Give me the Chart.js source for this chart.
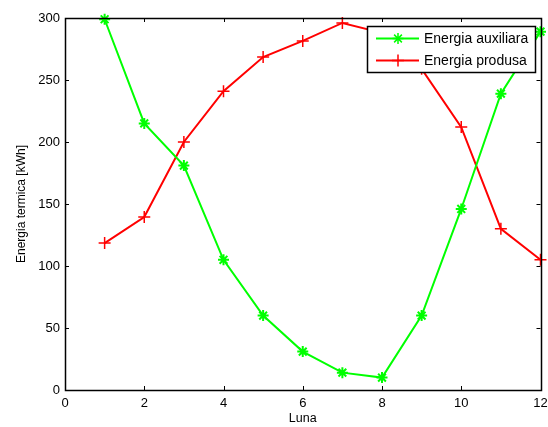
<!DOCTYPE html>
<html>
<head>
<meta charset="utf-8">
<script src="https://cdn.jsdelivr.net/npm/chart.js@4"></script>
<style>
  html, body { margin: 0; padding: 0; background: #fff; }
  #wrap { width: 548px; height: 427px; }
</style>
</head>
<body>
<div id="wrap"><canvas id="chart" width="548" height="427"></canvas></div>
<script>
// data
const luna = [1, 2, 3, 4, 5, 6, 7, 8, 9, 10, 11, 12];
const energiaAuxiliara = [299, 215, 181, 105, 60, 31, 14, 10, 60, 146, 239, 289];
const energiaProdusa = [118.5, 139.5, 200, 241, 268.5, 281.5, 296, 288, 259, 212, 130, 105];
const xTicks = [0, 2, 4, 6, 8, 10, 12];
const yTicks = [0, 50, 100, 150, 200, 250, 300];

const FONT = "'Liberation Sans', Arial, sans-serif";
Chart.defaults.font.family = FONT;
Chart.defaults.font.size = 13;
Chart.defaults.color = '#000';

// box round the axes + small inward ticks on all four sides (matlab style)
const boxTicks = {
    id: 'boxTicks',
    afterDatasetsDraw(chart) {
        const c = chart.ctx, a = chart.chartArea;
        const xs = chart.scales.x, ys = chart.scales.y;
        c.save();
        c.strokeStyle = '#000';
        c.lineWidth = 1;
        c.beginPath();
        xTicks.forEach(v => {
            const px = Math.round(xs.getPixelForValue(v)) + 0.5;
            c.moveTo(px, a.bottom); c.lineTo(px, a.bottom - 4);
            c.moveTo(px, a.top); c.lineTo(px, a.top + 4);
        });
        yTicks.forEach(v => {
            const py = Math.round(ys.getPixelForValue(v)) + 0.5;
            c.moveTo(a.left, py); c.lineTo(a.left + 4, py);
            c.moveTo(a.right, py); c.lineTo(a.right - 4, py);
        });
        c.stroke();
        c.lineWidth = 1.5;
        c.strokeRect(Math.round(a.left) + 0.5, Math.round(a.top) + 0.5,
                     Math.round(a.right - a.left), Math.round(a.bottom - a.top));
        c.restore();
    }
};

// legend box inside the plot, top right
const boxLegend = {
    id: 'boxLegend',
    afterDraw(chart) {
        const c = chart.ctx;
        const x0 = 367, y0 = 26, w = 168, h = 46;
        c.save();
        c.fillStyle = '#fff';
        c.fillRect(x0, y0, w, h);
        c.strokeStyle = '#000';
        c.lineWidth = 1.5;
        c.strokeRect(x0 + 0.5, y0 + 0.5, w, h);
        c.font = '14px ' + FONT;
        c.textBaseline = 'middle';
        chart.data.datasets.forEach((ds, i) => {
            const y = y0 + 12.5 + i * 22;
            c.strokeStyle = ds.borderColor;
            c.lineWidth = 2;
            c.beginPath();
            c.moveTo(x0 + 9, y); c.lineTo(x0 + 52, y);
            c.stroke();
            c.lineWidth = 1.5;
            Chart.helpers.drawPoint(c, {pointStyle: ds.pointStyle, radius: ds.pointRadius, borderWidth: 1.5}, x0 + 31, y);
            c.fillStyle = '#000';
            c.fillText(ds.label, x0 + 57, y + 1);
        });
        c.restore();
    }
};

new Chart(document.getElementById('chart'), {
    type: 'line',
    data: {
        datasets: [{
            label: 'Energia auxiliara',
            data: luna.map((m, i) => ({x: m, y: energiaAuxiliara[i]})),
            borderColor: '#00ff00',
            backgroundColor: '#00ff00',
            borderWidth: 2,
            pointStyle: 'star',
            pointRadius: 5.5,
            pointBorderWidth: 2,
            tension: 0
        }, {
            label: 'Energia produsa',
            data: luna.map((m, i) => ({x: m, y: energiaProdusa[i]})),
            borderColor: '#ff0000',
            backgroundColor: '#ff0000',
            borderWidth: 2,
            pointStyle: 'cross',
            pointRadius: 6,
            pointBorderWidth: 1.5,
            tension: 0
        }]
    },
    options: {
        responsive: false,
        animation: false,
        clip: false,
        layout: { padding: { top: 18, right: 0, left: 0, bottom: 0 } },
        plugins: { legend: { display: false }, tooltip: { enabled: false } },
        scales: {
            x: {
                type: 'linear',
                min: 0, max: 12,
                afterBuildTicks: s => { s.ticks = xTicks.map(v => ({value: v})); },
                afterFit: s => { s.height = 37; s.paddingLeft = 0; s.paddingRight = 7; },
                grid: { display: false, drawTicks: false },
                border: { display: false },
                ticks: { padding: 6, maxRotation: 0 },
                title: { display: true, text: 'Luna', font: { size: 12.5 }, padding: { top: 0, bottom: 1 } }
            },
            y: {
                min: 0, max: 300,
                afterBuildTicks: s => { s.ticks = yTicks.map(v => ({value: v})); },
                afterFit: s => { s.width = 65; s.paddingTop = 0; s.paddingBottom = 0; },
                grid: { display: false, drawTicks: false },
                border: { display: false },
                ticks: { padding: 5 },
                title: { display: true, text: 'Energia termica [kWh]', font: { size: 12 }, padding: { top: 14, bottom: 0 } }
            }
        }
    },
    plugins: [boxTicks, boxLegend]
});
</script>
</body>
</html>
